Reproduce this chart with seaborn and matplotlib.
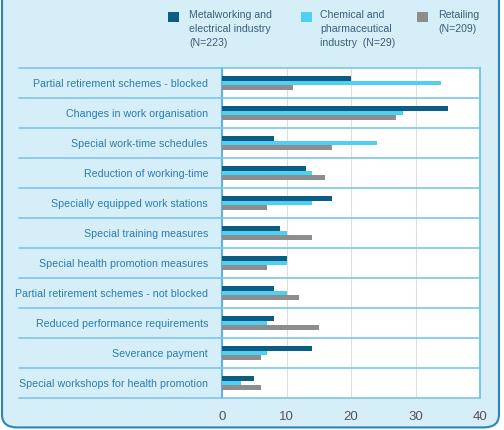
import matplotlib
matplotlib.use('Agg')
import matplotlib.pyplot as plt
from matplotlib.patches import FancyBboxPatch, Rectangle
import seaborn as sns
import pandas as pd

categories = [
    'Partial retirement schemes - blocked',
    'Changes in work organisation',
    'Special work-time schedules',
    'Reduction of working-time',
    'Specially equipped work stations',
    'Special training measures',
    'Special health promotion measures',
    'Partial retirement schemes - not blocked',
    'Reduced performance requirements',
    'Severance payment',
    'Special workshops for health promotion',
]
metal = [20, 35, 8, 13, 17, 9, 10, 8, 8, 14, 5]
chemical = [34, 28, 24, 14, 14, 10, 10, 10, 7, 7, 3]
retail = [11, 27, 17, 16, 7, 14, 7, 12, 15, 6, 6]
series_names = ['Metalworking', 'Chemical', 'Retailing']
legend_labels = ['Metalworking and\nelectrical industry\n(N=223)',
                 'Chemical and\npharmaceutical\nindustry  (N=29)',
                 'Retailing\n(N=209)']
colors = ['#0b5d84', '#4fd0f2', '#8d8d8d']
x_ticks = [0, 10, 20, 30, 40]

sns.set_theme(style='white')
plt.rcParams['font.family'] = ['Liberation Sans Narrow', 'Liberation Sans', 'DejaVu Sans']

df = pd.DataFrame({
    'Measure': categories * 3,
    'Value': metal + chemical + retail,
    'Series': [s for s in series_names for _ in categories],
})

bg = '#d5eef8'
line_blue = '#7cc6e6'
text_blue = '#2a7db0'

fig = plt.figure(figsize=(5.04, 4.30), dpi=100)
fig.patch.set_facecolor('white')
frame = FancyBboxPatch((0.004, 0.006), 0.986, 1.2, boxstyle='round,pad=0,rounding_size=0.03',
                       transform=fig.transFigure, facecolor=bg, edgecolor='#2a86b8',
                       linewidth=1.5, zorder=-5)
fig.patches.append(frame)

W, H = 504, 430
ax = fig.add_axes([222 / W, 1 - 398 / H, (480 - 222) / W, (398 - 68) / H])
ax.set_zorder(2)
ax.set_facecolor('white')

sns.barplot(data=df, y='Measure', x='Value', hue='Series', hue_order=series_names,
            order=categories, palette=colors, width=0.48, gap=0, saturation=1,
            orient='h', ax=ax, legend=False, zorder=3)
for p in ax.patches:
    p.set_edgecolor('none')

ax.set_xlim(0, 40)
ax.set_ylim(len(categories) - 0.5, -0.5)
ax.set_xticks(x_ticks)
ax.set_xticklabels([str(t) for t in x_ticks])
ax.xaxis.grid(True, color='#dddddd', linewidth=0.8, zorder=0)
ax.set_axisbelow(True)
ax.set_xlabel('')
ax.set_ylabel('')
ax.tick_params(axis='x', length=0, pad=9, labelsize=9.5, labelcolor='#555555')
ax.tick_params(axis='y', length=0, pad=10, labelsize=7.7, labelcolor=text_blue)

for side in ['top', 'bottom']:
    ax.spines[side].set_visible(False)
ax.spines['left'].set_color('#5fb2d8')
ax.spines['right'].set_color(line_blue)
for side in ['left', 'right']:
    ax.spines[side].set_linewidth(1.5)

# row separator lines across labels and plot
x_left = (19 - 222) / (480 - 222)
for i in range(len(categories) + 1):
    ax.plot([x_left, 1], [i - 0.5, i - 0.5], transform=ax.get_yaxis_transform(),
            color=line_blue, linewidth=1.2, clip_on=False, zorder=4)

# legend
sq_x = [168, 301, 417]
tx_x = [189, 320, 438]
for name, col, sx, tx in zip(legend_labels, colors, sq_x, tx_x):
    fig.patches.append(Rectangle((sx / W, 1 - 22 / H), 11 / W, 10 / H,
                                 transform=fig.transFigure, facecolor=col,
                                 edgecolor='none'))
    fig.text(tx / W, 1 - 10 / H, name, ha='left', va='top', fontsize=7.6,
             color='#3d5f78', linespacing=1.5)

fig.savefig('out.png', dpi=100, facecolor=fig.get_facecolor())
